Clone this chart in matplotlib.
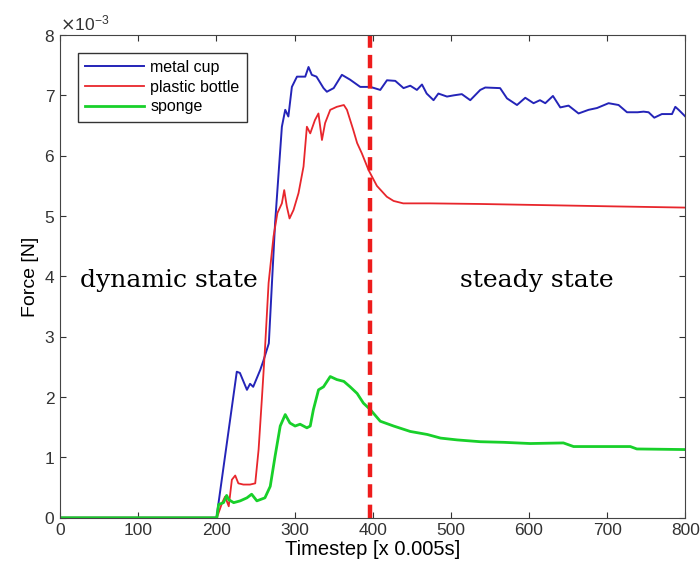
import matplotlib.pyplot as plt
from matplotlib.ticker import ScalarFormatter

# values (force in units of 1e-3 N)
cup_t = [0, 200, 226, 230, 239, 243, 247, 256, 260, 267, 271, 275, 279.5, 283.7, 288, 292,
         296.5, 303, 313.6, 317.8, 322, 328, 337, 341.3, 350, 360.5, 371, 384, 397, 409.6,
         418.2, 428.8, 439.4, 448, 456.5, 463, 469, 477.8, 484, 495, 503.6, 514, 524.8,
         537.6, 544, 563, 571.8, 584.6, 595.2, 605.8, 614, 620.8, 630.6, 640, 650.6, 663.4,
         676.2, 687, 701.8, 714.6, 725.4, 739, 746.6, 753, 760.3, 770, 783, 787.2, 791.5,
         800]
cup_f = [0, 0, 2.42, 2.4, 2.12, 2.22, 2.17, 2.45, 2.6, 2.89, 3.89, 4.88, 5.71, 6.48, 6.76,
         6.65, 7.14, 7.31, 7.31, 7.47, 7.34, 7.31, 7.12, 7.06, 7.12, 7.34, 7.26, 7.14, 7.14,
         7.09, 7.25, 7.24, 7.12, 7.16, 7.09, 7.18, 7.03, 6.92, 7.03, 6.98, 7.0, 7.02, 6.92,
         7.09, 7.13, 7.12, 6.95, 6.84, 6.96, 6.87, 6.92, 6.87, 6.99, 6.80, 6.83, 6.70,
         6.76, 6.79, 6.87, 6.84, 6.72, 6.72, 6.73, 6.72, 6.63, 6.69, 6.69, 6.81, 6.76,
         6.65]

bottle_t = [0, 200.5, 207, 211, 215.7, 219.7, 224, 228, 234.4, 243, 249.6, 253.9, 258, 262,
            266.7, 273, 278, 283.7, 286.7, 290, 293.5, 298.6, 305, 311.4, 315.7, 320, 326,
            330.5, 335, 339, 345.6, 354, 363, 367, 375, 380, 386, 394.7, 405.3, 418, 426.7,
            439, 473, 537, 623, 708, 800]
bottle_f = [0, 0, 0.24, 0.35, 0.19, 0.63, 0.7, 0.57, 0.55, 0.55, 0.57, 1.13, 1.95, 2.78,
            3.89, 4.66, 5.05, 5.21, 5.43, 5.16, 4.96, 5.1, 5.38, 5.82, 6.48, 6.37, 6.59,
            6.7, 6.26, 6.54, 6.76, 6.81, 6.84, 6.76, 6.43, 6.21, 6.04, 5.76, 5.5, 5.32, 5.25,
            5.21, 5.21, 5.2, 5.18, 5.16, 5.14]

sponge_t = [0, 200.5, 202.7, 209, 213, 215.7, 222, 230.4, 239, 245, 251.7, 262, 268.8, 275,
            281.6, 288, 294, 300.6, 307, 315.7, 320, 324, 330.6, 337, 345.6, 354, 363, 371,
            380, 388, 397, 409.6, 426.7, 448, 469.8, 486.8, 508, 537.6, 567.5, 601.6, 644,
            657, 695, 729.6, 738, 800]
sponge_f = [0, 0, 0.22, 0.25, 0.37, 0.3, 0.25, 0.28, 0.33, 0.39, 0.28, 0.33, 0.52, 1.02,
            1.52, 1.71, 1.57, 1.52, 1.55, 1.49, 1.52, 1.79, 2.12, 2.17, 2.34, 2.29, 2.26,
            2.17, 2.06, 1.9, 1.79, 1.6, 1.52, 1.43, 1.38, 1.32, 1.29, 1.26, 1.25, 1.23, 1.24,
            1.18, 1.18, 1.18, 1.14, 1.13]

split_t = 397

plt.rcParams['font.family'] = ['Liberation Sans', 'DejaVu Sans']

fig = plt.figure(figsize=(7, 5.74), dpi=100)
ax = fig.add_axes([0.086, 0.098, 0.893, 0.841])

ax.plot(cup_t, [v * 1e-3 for v in cup_f], color='#2424b8', lw=1.4, label='metal cup')
ax.plot(bottle_t, [v * 1e-3 for v in bottle_f], color='#e8262c', lw=1.3, label='plastic bottle')
ax.plot(sponge_t, [v * 1e-3 for v in sponge_f], color='#18d02a', lw=2.0, label='sponge')
ax.axvline(split_t, color='#ee1c1c', lw=3.2, ls=(0, (3, 1.6)))

ax.set_xlim(0, 800)
ax.set_ylim(0, 8e-3)
ax.set_xticks(range(0, 801, 100))
ax.set_yticks([i * 1e-3 for i in range(9)])
fmt = ScalarFormatter(useMathText=True)
fmt.set_powerlimits((-3, -3))
ax.yaxis.set_major_formatter(fmt)
ax.yaxis.get_offset_text().set_fontsize(12.5)
ax.tick_params(direction='in', top=True, right=True, labelsize=12.5, length=4, colors='#333333')
for s in ax.spines.values():
    s.set_color('#444444')

ax.set_xlabel('Timestep [x 0.005s]', fontsize=14.5, labelpad=2)
ax.set_ylabel('Force [N]', fontsize=14)

ax.text(139.5, 3.83e-3, 'dynamic state', fontsize=18, family='DejaVu Serif',
        ha='center', va='baseline')
ax.text(610, 3.83e-3, 'steady state', fontsize=18, family='DejaVu Serif',
        ha='center', va='baseline')

leg = ax.legend(loc='upper left', fontsize=11.5, fancybox=False, framealpha=1,
                borderaxespad=1.1, borderpad=0.45, handlelength=3.7, handletextpad=0.4,
                labelspacing=0.3)
leg.get_frame().set_edgecolor('#333333')

fig.savefig('out.png')
